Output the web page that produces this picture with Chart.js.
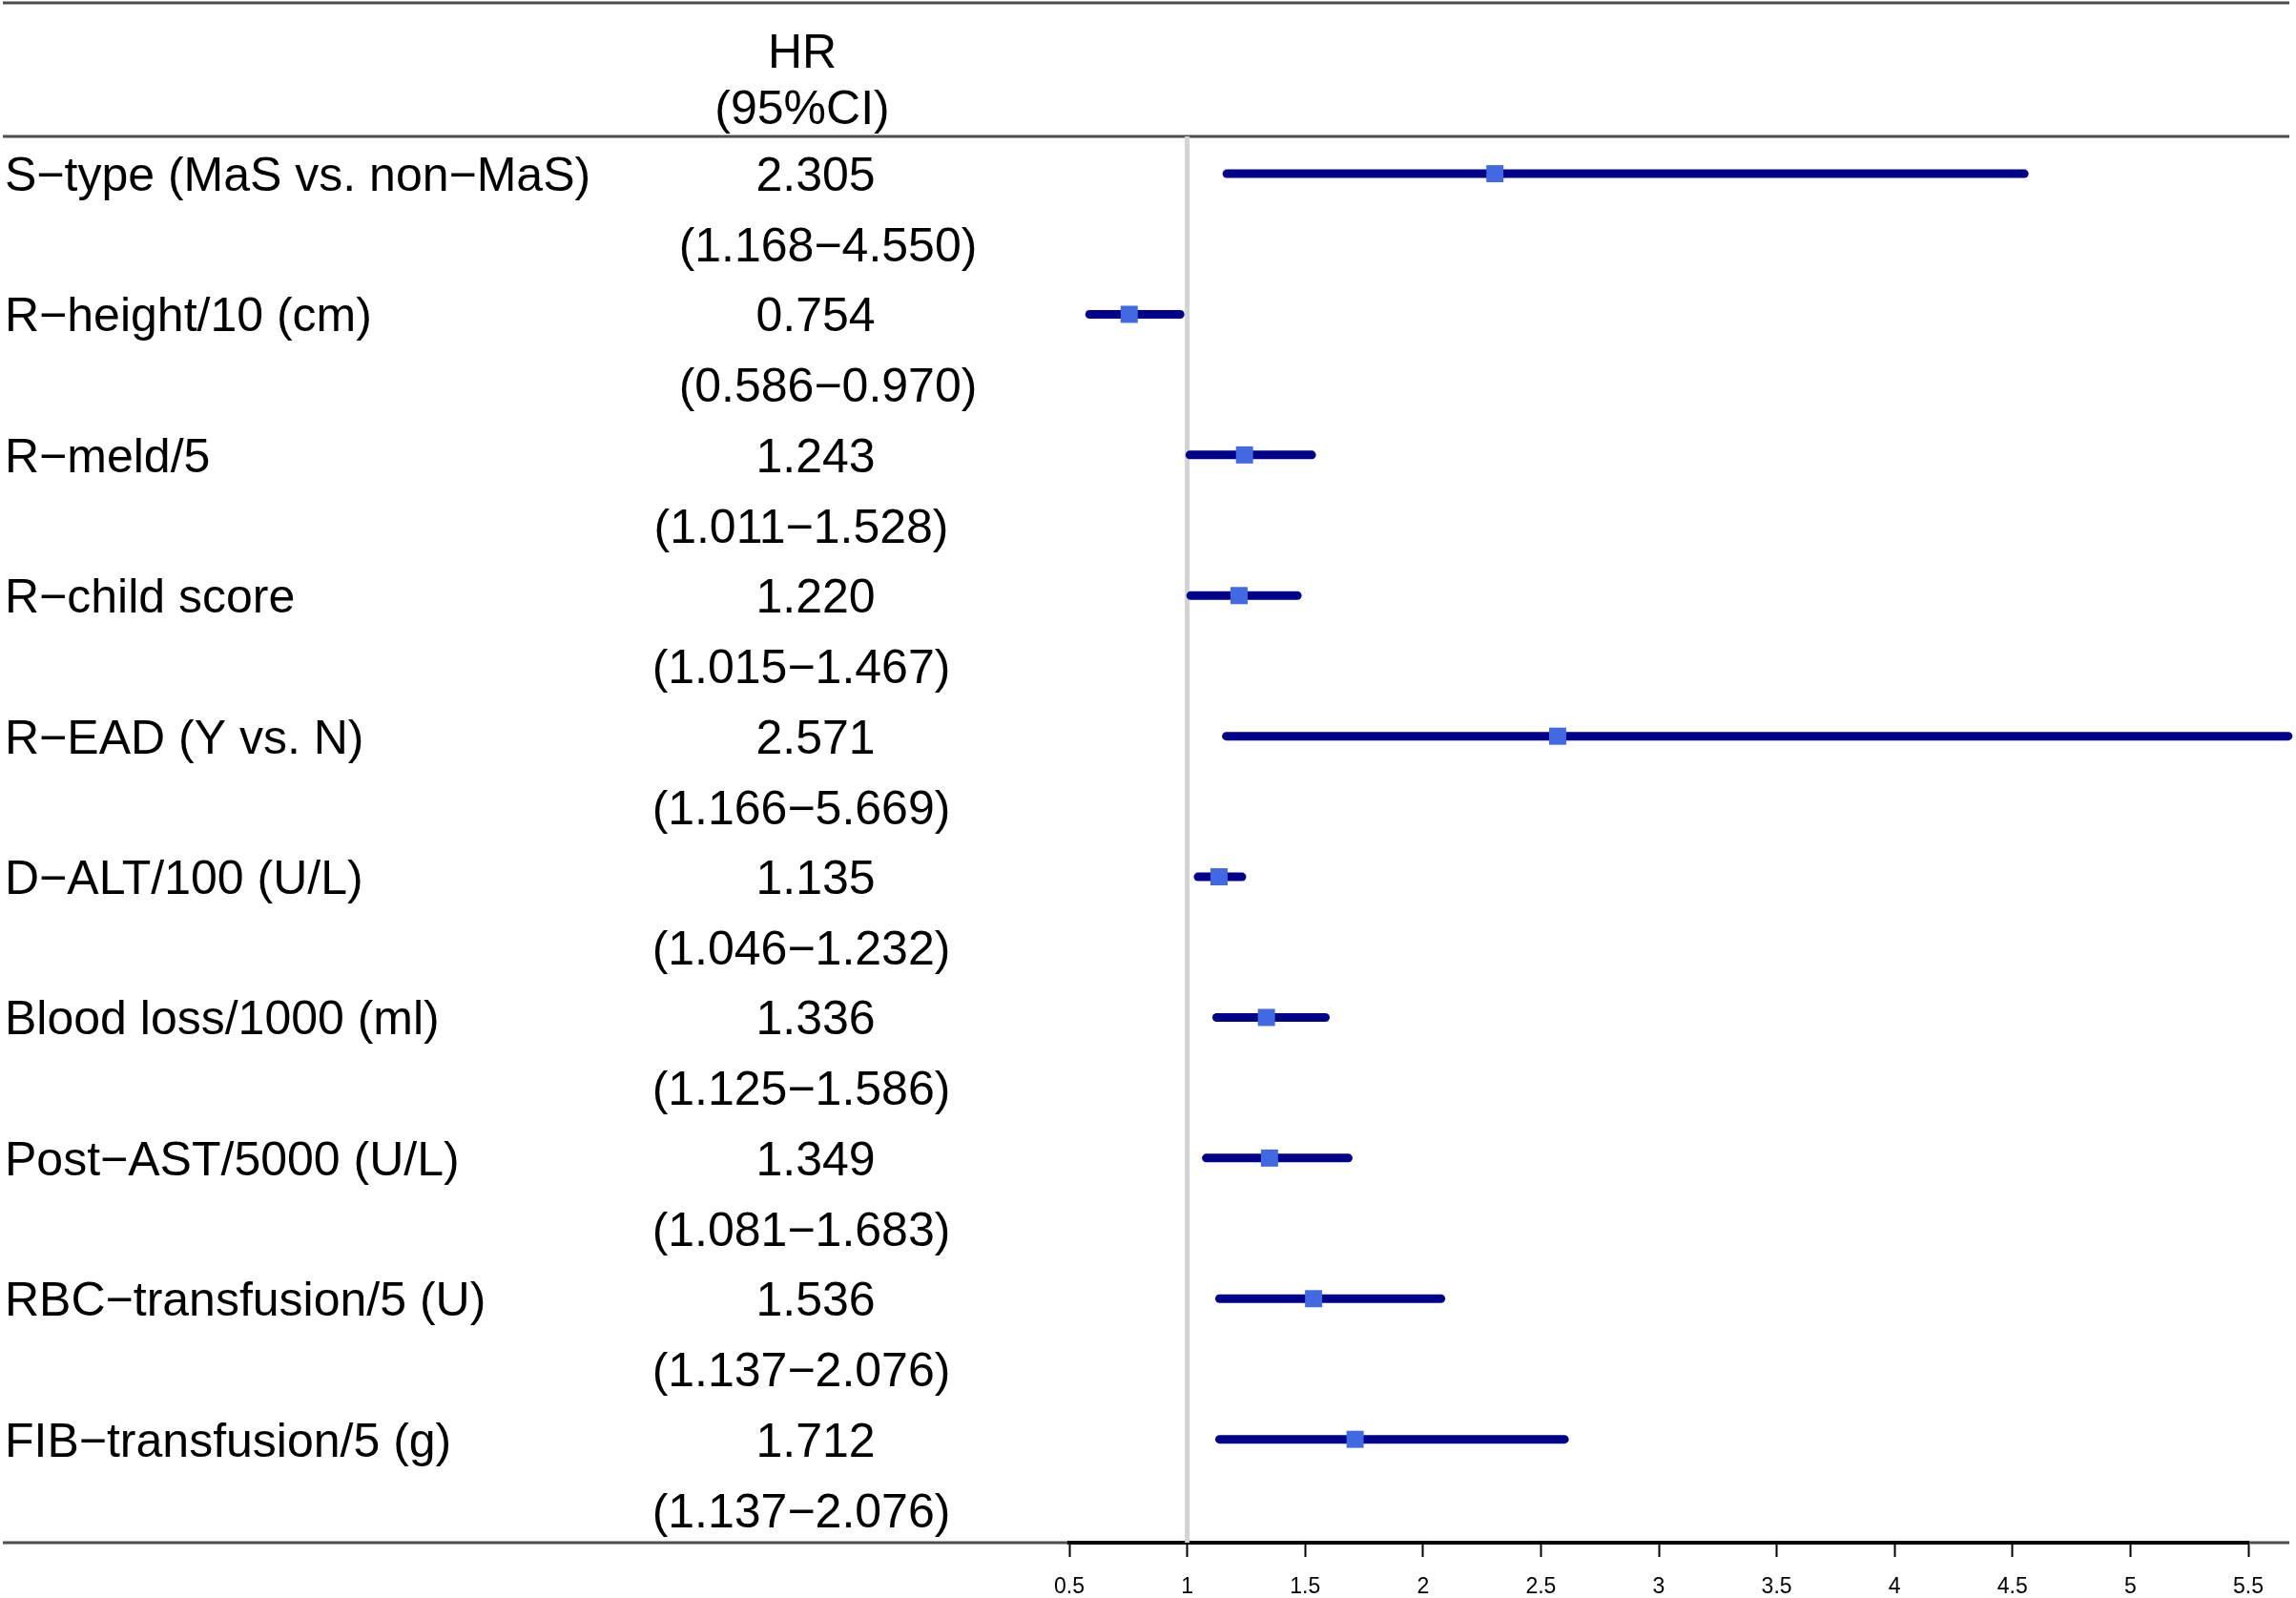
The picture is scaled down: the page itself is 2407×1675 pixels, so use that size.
<!DOCTYPE html>
<html>
<head>
<meta charset="utf-8">
<script src="https://cdn.jsdelivr.net/npm/chart.js@4.4.1/dist/chart.umd.min.js"></script>
<style>
  html, body { margin: 0; padding: 0; background: #ffffff; }
  #wrap { width: 2407px; height: 1675px; }
  canvas { display: block; }
</style>
</head>
<body>
<div id="wrap"><canvas id="c" width="2407" height="1675"></canvas></div>
<script>
// ---- data ----
const categories = [
  "S\u2212type (MaS vs. non\u2212MaS)",
  "R\u2212height/10 (cm)",
  "R\u2212meld/5",
  "R\u2212child score",
  "R\u2212EAD (Y vs. N)",
  "D\u2212ALT/100 (U/L)",
  "Blood loss/1000 (ml)",
  "Post\u2212AST/5000 (U/L)",
  "RBC\u2212transfusion/5 (U)",
  "FIB\u2212transfusion/5 (g)"
];
const hrValues = [2.305, 0.754, 1.243, 1.220, 2.571, 1.135, 1.336, 1.349, 1.536, 1.712];
const ciLower  = [1.168, 0.586, 1.011, 1.015, 1.166, 1.046, 1.125, 1.081, 1.137, 1.137];
const ciUpper  = [4.550, 0.970, 1.528, 1.467, 5.669, 1.232, 1.586, 1.683, 2.076, 2.600];
const hrText = ["2.305", "0.754", "1.243", "1.220", "2.571", "1.135", "1.336", "1.349", "1.536", "1.712"];
const ciText = [
  "(1.168\u22124.550)", "(0.586\u22120.970)", "(1.011\u22121.528)", "(1.015\u22121.467)",
  "(1.166\u22125.669)", "(1.046\u22121.232)", "(1.125\u22121.586)", "(1.081\u22121.683)",
  "(1.137\u22122.076)", "(1.137\u22122.076)"
];
const headerText = ["HR", "(95%CI)"];
const tickValues = [0.5, 1, 1.5, 2, 2.5, 3, 3.5, 4, 4.5, 5, 5.5];
const tickLabels = ["0.5", "1", "1.5", "2", "2.5", "3", "3.5", "4", "4.5", "5", "5.5"];
const refValue = 1;

// ---- layout / style ----
const FONT = '"Liberation Sans", Arial, Helvetica, sans-serif';
const ROW_OFFSET = 0.265;       // bar position inside row slot
const LABEL_BASE = 0.387;       // baseline of first text line (in row units)
const CI_BASE = 0.889;          // baseline of second text line
const ciCenterX = [868, 868, 840, 840, 840, 840, 840, 840, 840, 840];
const HR_X = 855, HEADER_X = 841, LABEL_X = 5;

const rowY = categories.map((_, i) => i + ROW_OFFSET);

const ciDatasets = categories.map((_, i) => ({
  type: 'line',
  label: categories[i],
  data: [{x: ciLower[i], y: rowY[i]}, {x: ciUpper[i], y: rowY[i]}],
  borderColor: '#00008B',
  borderWidth: 9,
  borderCapStyle: 'round',
  pointRadius: 0,
  fill: false,
  clip: false,
  order: 1
}));

const markerDataset = {
  type: 'scatter',
  label: 'HR',
  data: hrValues.map((v, i) => ({x: v, y: rowY[i]})),
  pointStyle: 'rect',
  pointRadius: 12.7,
  pointHoverRadius: 12.7,
  backgroundColor: '#4169E1',
  borderWidth: 0,
  clip: false,
  order: 0
};

const refDataset = {
  type: 'line',
  label: 'ref',
  data: [{x: refValue, y: 0}, {x: refValue, y: categories.length}],
  borderColor: '#D3D3D3',
  borderWidth: 5,
  pointRadius: 0,
  fill: false,
  order: 2
};

const tablePlugin = {
  id: 'tablePlugin',
  beforeDraw(chart) {
    const ctx = chart.ctx;
    const ys = chart.scales.y;
    ctx.save();
    ctx.fillStyle = '#ffffff';
    ctx.fillRect(0, 0, chart.width, chart.height);
    ctx.strokeStyle = '#4d4d4d';
    ctx.lineWidth = 3;
    const lines = [3, ys.getPixelForValue(0), ys.getPixelForValue(categories.length)];
    lines.forEach(y => {
      ctx.beginPath();
      ctx.moveTo(3, y);
      ctx.lineTo(2400, y);
      ctx.stroke();
    });
    ctx.restore();
  },
  afterDraw(chart) {
    const ctx = chart.ctx;
    const ys = chart.scales.y;
    ctx.save();
    ctx.fillStyle = '#000000';
    ctx.font = '50px ' + FONT;
    ctx.textBaseline = 'alphabetic';
    ctx.textAlign = 'center';
    ctx.fillText(headerText[0], HEADER_X, ys.getPixelForValue(-0.49));
    ctx.fillText(headerText[1], HEADER_X, ys.getPixelForValue(-0.085));
    categories.forEach((c, i) => {
      const y1 = ys.getPixelForValue(i + LABEL_BASE);
      const y2 = ys.getPixelForValue(i + CI_BASE);
      ctx.textAlign = 'left';
      ctx.fillText(c, LABEL_X, y1);
      ctx.textAlign = 'center';
      ctx.fillText(hrText[i], HR_X, y1);
      ctx.fillText(ciText[i], ciCenterX[i], y2);
    });
    ctx.restore();
  }
};

new Chart(document.getElementById('c'), {
  type: 'scatter',
  data: { datasets: [markerDataset, ...ciDatasets, refDataset] },
  options: {
    responsive: false,
    animation: false,
    devicePixelRatio: 1,
    layout: { padding: { left: 1121, right: 50, top: 143, bottom: 0 } },
    plugins: { legend: { display: false }, tooltip: { enabled: false } },
    scales: {
      x: {
        type: 'linear',
        min: 0.5,
        max: 5.5,
        afterBuildTicks(scale) { scale.ticks = tickValues.map(v => ({value: v})); },
        afterFit(scale) { scale.height = 58; },
        ticks: {
          color: '#000000',
          font: { family: FONT, size: 23, lineHeight: 1 },
          padding: 20,
          maxRotation: 0,
          autoSkip: false,
          callback(value) {
            const k = tickValues.indexOf(value);
            return k >= 0 ? tickLabels[k] : '';
          }
        },
        grid: {
          drawOnChartArea: false,
          drawTicks: true,
          tickLength: 15,
          tickColor: '#000000',
          tickWidth: 2
        },
        border: { display: true, color: '#000000', width: 4 }
      },
      y: {
        type: 'linear',
        display: false,
        min: 0,
        max: categories.length,
        reverse: true
      }
    }
  },
  plugins: [tablePlugin]
});
</script>
</body>
</html>
